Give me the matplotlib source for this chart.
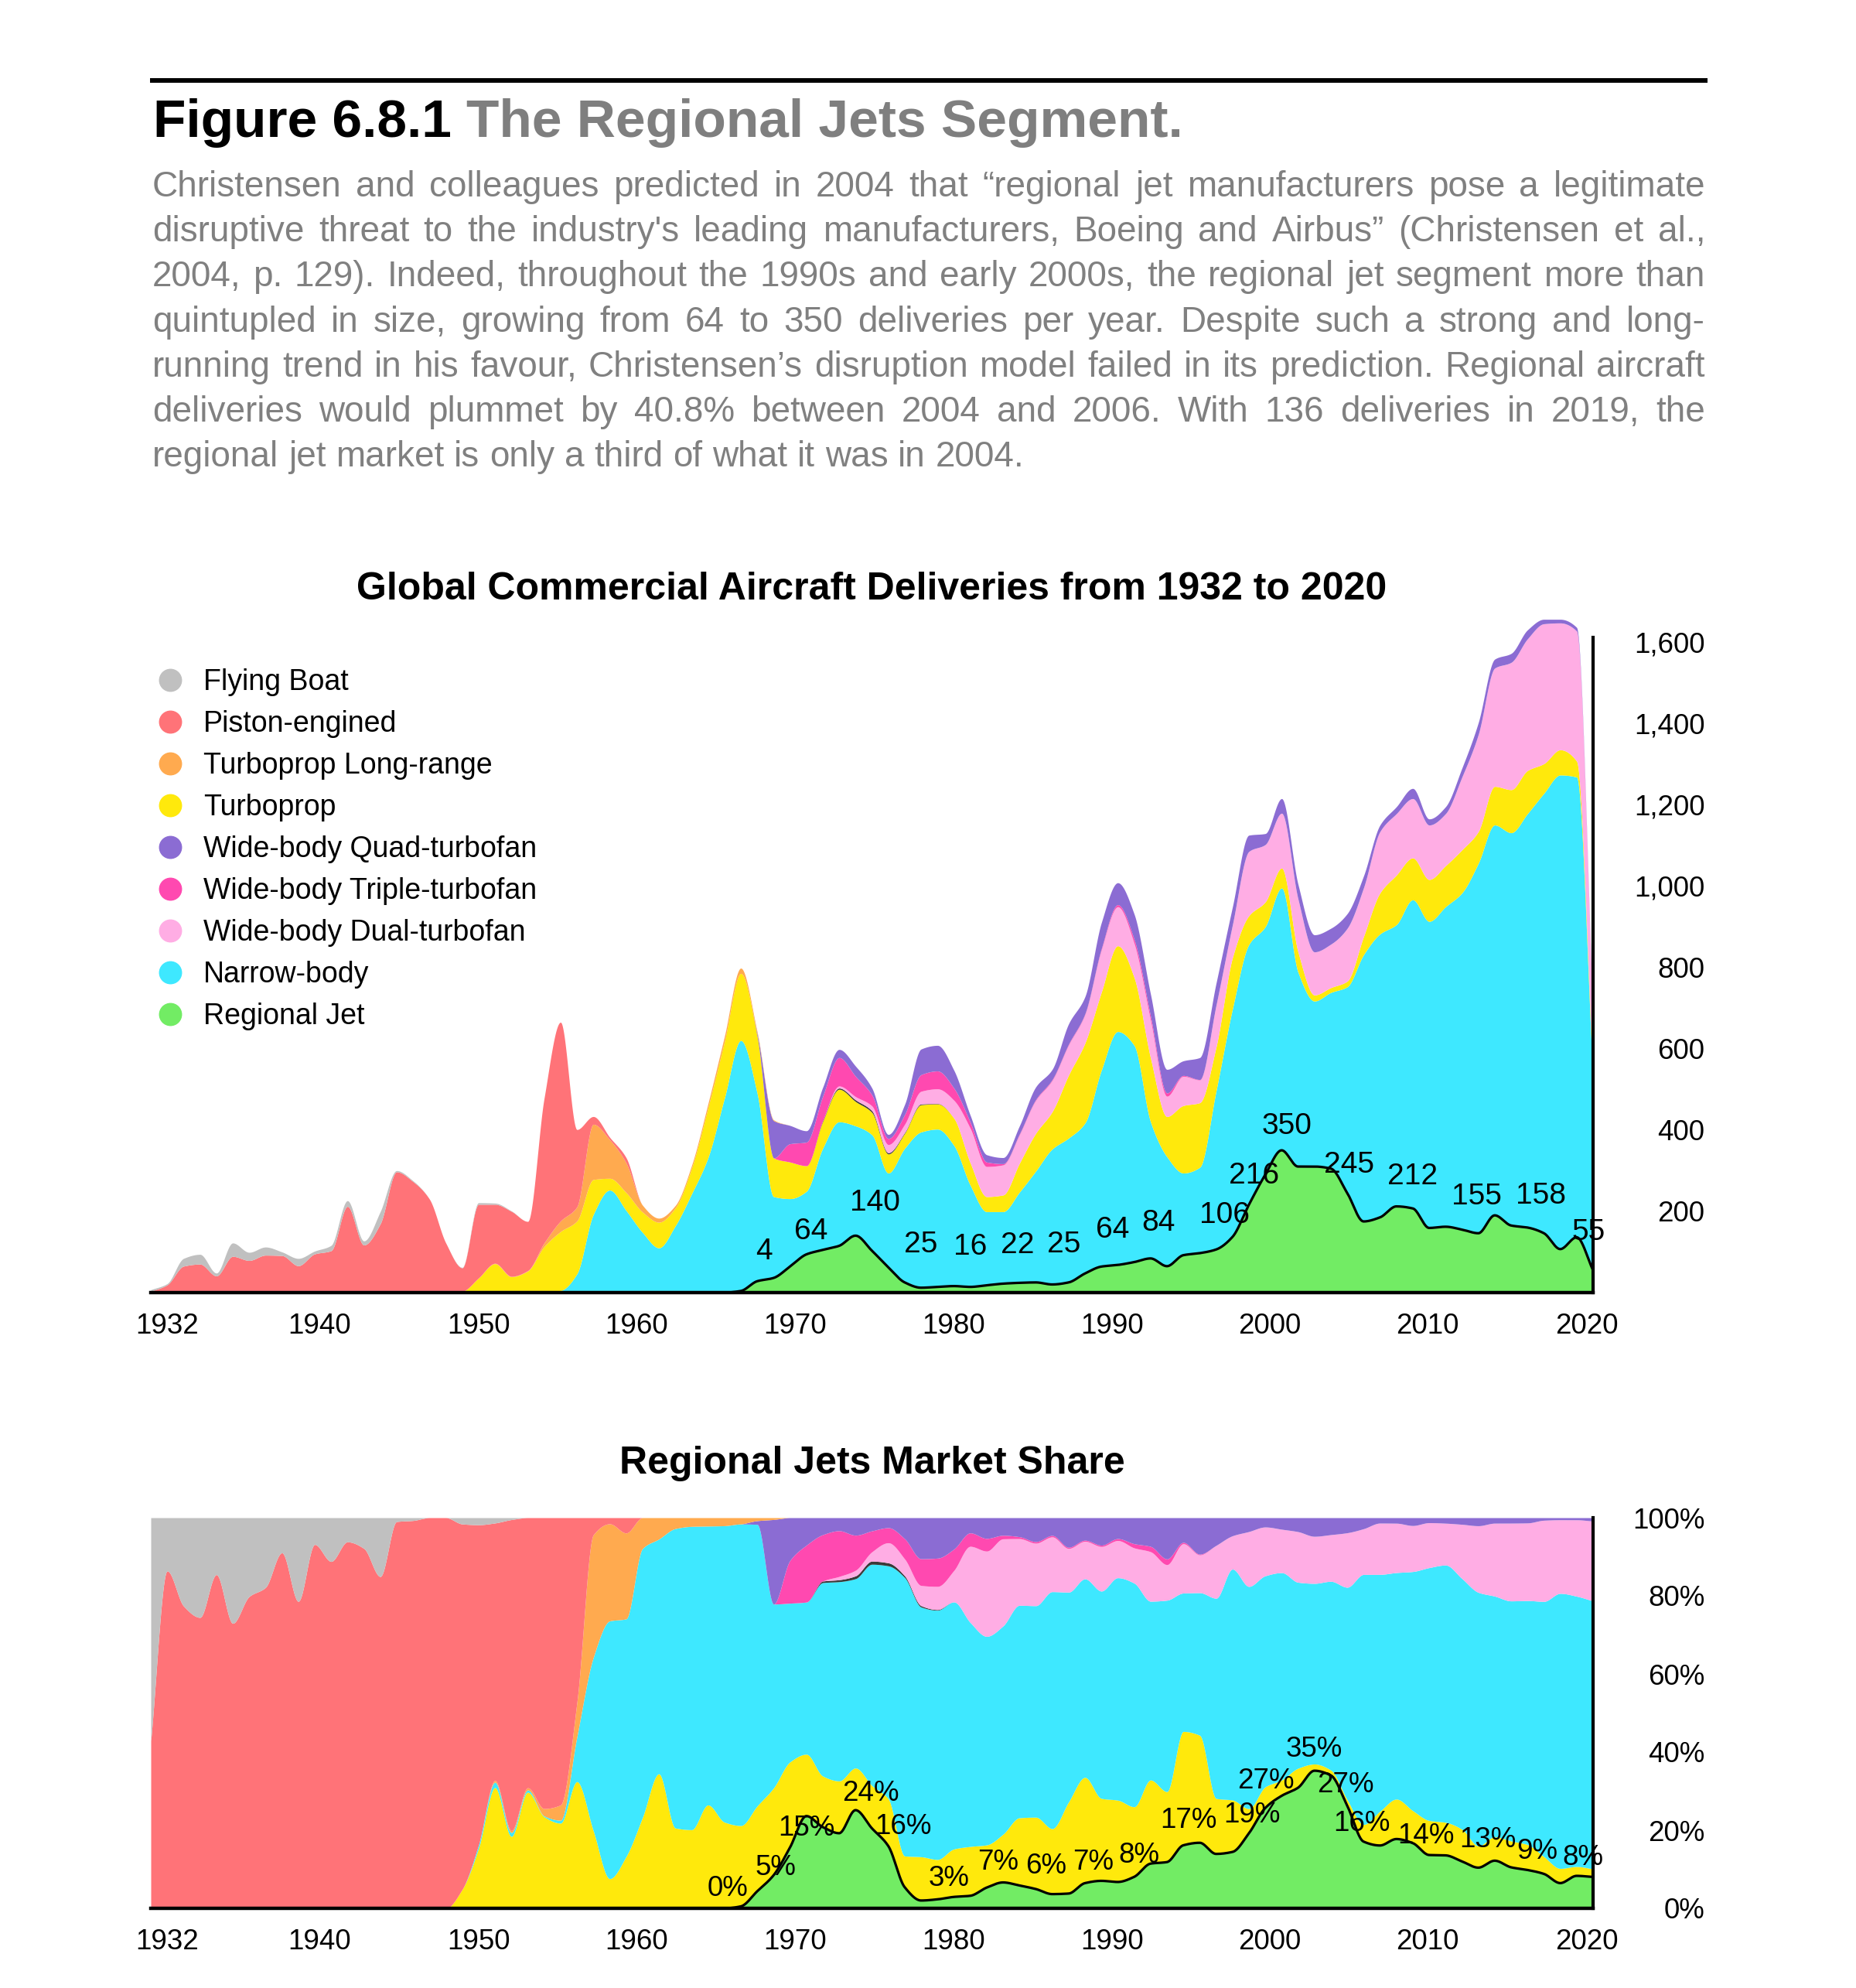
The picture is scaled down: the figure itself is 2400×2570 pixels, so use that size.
import numpy as np
import matplotlib
matplotlib.use("Agg")
import matplotlib.pyplot as plt
from matplotlib.lines import Line2D
from matplotlib.ticker import FuncFormatter

plt.rcParams['font.family'] = ['Liberation Sans', 'DejaVu Sans']

W, H = 2400, 2570

years = np.arange(1932, 2021)

# deliveries per year, 1932..2020
flying_boat = [4, 3, 19, 24, 7, 33, 20, 20, 9, 18,
               7, 13, 14, 10, 30, 3, 2, 0, 0, 1,
               4, 3, 1, 0, 0, 0, 0, 0, 0, 0,
               0, 0, 0, 0, 0, 0, 0, 0, 0, 0,
               0, 0, 0, 0, 0, 0, 0, 0, 0, 0,
               0, 0, 0, 0, 0, 0, 0, 0, 0, 0,
               0, 0, 0, 0, 0, 0, 0, 0, 0, 0,
               0, 0, 0, 0, 0, 0, 0, 0, 0, 0,
               0, 0, 0, 0, 0, 0, 0, 0, 0]
piston = [3, 19, 65, 70, 41, 89, 79, 92, 91, 66,
          95, 103, 212, 117, 169, 297, 273, 230, 122, 58,
          181, 145, 160, 121, 356, 489, 190, 19, 6, 13,
          0, 0, 0, 0, 0, 0, 0, 0, 0, 0,
          0, 0, 0, 0, 0, 0, 0, 0, 0, 0,
          0, 0, 0, 0, 0, 0, 0, 0, 0, 0,
          0, 0, 0, 0, 0, 0, 0, 0, 0, 0,
          0, 0, 0, 0, 0, 0, 0, 0, 0, 0,
          0, 0, 0, 0, 0, 0, 0, 0, 0]
turboprop_long = [0, 0, 0, 0, 0, 0, 0, 0, 0, 0,
                  0, 0, 0, 0, 0, 0, 0, 0, 0, 0,
                  0, 1, 1, 1, 9, 26, 35, 136, 95, 73,
                  17, 10, 6, 7, 10, 13, 13, 5, 2, 0,
                  0, 0, 0, 0, 0, 0, 0, 0, 0, 0,
                  0, 0, 0, 0, 0, 0, 0, 0, 0, 0,
                  0, 0, 0, 0, 0, 0, 0, 0, 0, 0,
                  0, 0, 0, 0, 0, 0, 0, 0, 0, 0,
                  0, 0, 0, 0, 0, 0, 0, 0, 0]
turboprop = [0, 0, 0, 0, 0, 0, 0, 0, 0, 0,
             0, 0, 0, 0, 0, 0, 0, 0, 0, 3,
             34, 68, 37, 52, 112, 145, 130, 86, 29, 44,
             50, 63, 44, 63, 123, 139, 165, 140, 95, 90,
             63, 66, 80, 60, 55, 47, 37, 67, 62, 67,
             55, 37, 41, 71, 93, 92, 155, 197, 192, 211,
             167, 157, 99, 166, 159, 108, 126, 71, 61, 49,
             50, 15, 12, 14, 45, 101, 122, 103, 103, 101,
             106, 78, 95, 106, 106, 73, 62, 39, 14]
wide_quad = [0, 0, 0, 0, 0, 0, 0, 0, 0, 0,
             0, 0, 0, 0, 0, 0, 0, 0, 0, 0,
             0, 0, 0, 0, 0, 0, 0, 0, 0, 0,
             0, 0, 0, 0, 0, 0, 0, 6, 92, 45,
             28, 22, 20, 25, 17, 10, 25, 63, 63, 44,
             17, 18, 15, 20, 31, 25, 50, 42, 64, 54,
             62, 54, 58, 36, 54, 54, 44, 40, 27, 36,
             36, 42, 39, 36, 29, 16, 17, 25, 15, 17,
             22, 29, 22, 22, 22, 11, 9, 9, 6]
wide_triple = [0, 0, 0, 0, 0, 0, 0, 0, 0, 0,
               0, 0, 0, 0, 0, 0, 0, 0, 0, 0,
               0, 0, 0, 0, 0, 0, 0, 0, 0, 0,
               0, 0, 0, 0, 0, 0, 0, 0, 0, 45,
               58, 60, 70, 50, 27, 15, 24, 41, 44, 30,
               15, 11, 3, 2, 2, 2, 2, 2, 3, 5,
               10, 10, 8, 2, 1, 0, 0, 0, 0, 0,
               0, 0, 0, 0, 0, 0, 0, 0, 0, 0,
               0, 0, 0, 0, 0, 0, 0, 0, 0]
wide_dual = [0, 0, 0, 0, 0, 0, 0, 0, 0, 0,
             0, 0, 0, 0, 0, 0, 0, 0, 0, 0,
             0, 0, 0, 0, 0, 0, 0, 0, 0, 0,
             0, 0, 0, 0, 0, 0, 0, 0, 0, 0,
             0, 0, 5, 8, 12, 20, 20, 31, 36, 44,
             85, 74, 74, 70, 81, 77, 74, 70, 104, 96,
             84, 93, 50, 72, 56, 103, 81, 158, 141, 135,
             130, 106, 107, 130, 120, 151, 151, 146, 134, 128,
             179, 239, 291, 313, 324, 344, 312, 320, 140]
supersonic = [0, 0, 0, 0, 0, 0, 0, 0, 0, 0,
              0, 0, 0, 0, 0, 0, 0, 0, 0, 0,
              0, 0, 0, 0, 0, 0, 0, 0, 0, 0,
              0, 0, 0, 0, 0, 0, 0, 0, 0, 0,
              0, 2, 3, 4, 4, 3, 2, 2, 1, 0,
              0, 0, 0, 0, 0, 0, 0, 0, 0, 0,
              0, 0, 0, 0, 0, 0, 0, 0, 0, 0,
              0, 0, 0, 0, 0, 0, 0, 0, 0, 0,
              0, 0, 0, 0, 0, 0, 0, 0, 0]
narrow = [0, 0, 0, 0, 0, 0, 0, 0, 0, 0,
          0, 0, 0, 0, 0, 0, 0, 0, 0, 0,
          2, 3, 2, 1, 1, 5, 46, 192, 252, 202,
          148, 110, 164, 243, 332, 478, 616, 462, 200, 167,
          155, 250, 305, 270, 285, 232, 330, 383, 388, 346,
          250, 181, 177, 223, 274, 333, 355, 370, 483, 574,
          533, 336, 269, 202, 211, 390, 561, 640, 610, 645,
          478, 407, 433, 507, 656, 697, 693, 759, 754, 787,
          828, 910, 960, 966, 1018, 1082, 1166, 1132, 470]
regional = [0, 0, 0, 0, 0, 0, 0, 0, 0, 0,
            0, 0, 0, 0, 0, 0, 0, 0, 0, 0,
            0, 0, 0, 0, 0, 0, 0, 0, 0, 0,
            0, 0, 0, 0, 0, 0, 4, 28, 36, 64,
            94, 105, 115, 140, 103, 62, 25, 12, 14, 16,
            14, 18, 22, 24, 25, 20, 25, 47, 64, 68,
            75, 84, 65, 92, 97, 106, 137, 216, 290, 350,
            310, 310, 305, 245, 175, 185, 212, 207, 159, 162,
            155, 146, 190, 165, 160, 146, 107, 136, 55]

data = {
    'Flying Boat': flying_boat,
    'Piston-engined': piston,
    'Turboprop Long-range': turboprop_long,
    'Turboprop': turboprop,
    'Wide-body Quad-turbofan': wide_quad,
    'Wide-body Triple-turbofan': wide_triple,
    'Wide-body Dual-turbofan': wide_dual,
    'Supersonic': supersonic,
    'Narrow-body': narrow,
    'Regional Jet': regional,
}
colors = {
    'Flying Boat': '#C0C0C0',
    'Piston-engined': '#FF7378',
    'Turboprop Long-range': '#FFAA4F',
    'Turboprop': '#FFE90C',
    'Wide-body Quad-turbofan': '#8B6CD3',
    'Wide-body Triple-turbofan': '#FF49B0',
    'Wide-body Dual-turbofan': '#FFADE4',
    'Supersonic': '#3A3A3A',
    'Narrow-body': '#3EE8FF',
    'Regional Jet': '#72EC64',
}
legend_names = ['Flying Boat', 'Piston-engined', 'Turboprop Long-range', 'Turboprop',
                'Wide-body Quad-turbofan', 'Wide-body Triple-turbofan',
                'Wide-body Dual-turbofan', 'Narrow-body', 'Regional Jet']

# stacking order, bottom to top
order_counts = ['Regional Jet', 'Narrow-body', 'Turboprop', 'Supersonic', 'Wide-body Dual-turbofan',
                'Wide-body Triple-turbofan', 'Wide-body Quad-turbofan', 'Turboprop Long-range',
                'Piston-engined', 'Flying Boat']
order_share = ['Regional Jet', 'Turboprop', 'Narrow-body', 'Supersonic', 'Wide-body Dual-turbofan',
               'Wide-body Triple-turbofan', 'Wide-body Quad-turbofan', 'Turboprop Long-range',
               'Piston-engined', 'Flying Boat']

xtick_pos = [1932.99, 1942.29, 1952.01, 1961.63, 1971.31, 1980.98, 1990.65, 2000.28, 2009.90, 2019.62]
xtick_labels = ['1932', '1940', '1950', '1960', '1970', '1980', '1990', '2000', '2010', '2020']

rj_labels = ['4', '64', '140', '25', '16', '22', '25', '64', '84', '106', '216', '350', '245',
             '212', '155', '158', '55']
rj_label_x = [1969.4, 1972.3, 1976.2, 1979.0, 1982.0, 1984.9, 1987.7, 1990.7, 1993.5, 1997.5,
              1999.3, 2001.3, 2005.1, 2009.0, 2012.9, 2016.8, 2019.7]
rj_label_y = [101, 150, 221, 118, 112, 116, 118, 154, 171, 190, 287, 409, 314, 285, 236, 238, 148]

share_labels = ['0%', '5%', '15%', '24%', '16%', '3%', '7%', '6%', '7%', '8%', '17%', '19%',
                '27%', '35%', '27%', '16%', '14%', '13%', '9%', '8%']
share_label_x = [1967.2, 1970.1, 1972.0, 1975.9, 1977.9, 1980.7, 1983.7, 1986.6, 1989.5, 1992.3,
                 1995.3, 1999.2, 2000.05, 2003.0, 2004.9, 2005.9, 2009.8, 2013.6, 2016.6, 2019.4]
share_label_y = [5.0, 10.3, 20.4, 29.5, 20.8, 7.7, 11.7, 10.7, 11.7, 13.5, 22.4, 23.8, 32.5,
                 40.6, 31.5, 21.6, 18.6, 17.6, 14.5, 12.9]

body_lines = [
    "Christensen and colleagues predicted in 2004 that \u201cregional jet manufacturers pose a legitimate",
    "disruptive threat to the industry's leading manufacturers, Boeing and Airbus\u201d (Christensen et al.,",
    "2004, p. 129). Indeed, throughout the 1990s and early 2000s, the regional jet segment more than",
    "quintupled in size, growing from 64 to 350 deliveries per year. Despite such a strong and long-",
    "running trend in his favour, Christensen\u2019s disruption model failed in its prediction. Regional aircraft",
    "deliveries would plummet by 40.8% between 2004 and 2006. With 136 deliveries in 2019, the",
    "regional jet market is only a third of what it was in 2004.",
]


def monotone(x, y, xs):
    # monotone cubic through the points (no overshoot)
    x = np.asarray(x, float)
    y = np.asarray(y, float)
    h = np.diff(x)
    d = np.diff(y) / h
    m = np.zeros_like(y)
    m[0], m[-1] = d[0], d[-1]
    for k in range(1, len(y) - 1):
        if d[k - 1] * d[k] > 0:
            w1 = 2 * h[k] + h[k - 1]
            w2 = h[k] + 2 * h[k - 1]
            m[k] = (w1 + w2) / (w1 / d[k - 1] + w2 / d[k])
    i = np.clip(np.searchsorted(x, xs) - 1, 0, len(x) - 2)
    t = (xs - x[i]) / h[i]
    h00 = 2 * t**3 - 3 * t**2 + 1
    h10 = t**3 - 2 * t**2 + t
    h01 = -2 * t**3 + 3 * t**2
    h11 = t**3 - t**2
    return h00 * y[i] + h10 * h[i] * m[i] + h01 * y[i + 1] + h11 * h[i] * m[i + 1]


def smooth_stack(rows, xs):
    cum = np.cumsum(np.array(rows, float), axis=0)
    curves = np.array([monotone(years, c, xs) for c in cum])
    curves = np.maximum(curves, 0)
    return np.maximum.accumulate(curves, axis=0)


xs = np.linspace(1932, 2020, 3000)

fig = plt.figure(figsize=(24, 25.7), dpi=100)
fig.patch.set_facecolor('white')

# ---- header ----
fig.add_artist(Line2D([197 / W, 2205 / W], [1 - 104 / H, 1 - 104 / H], color='black', lw=4.3))
renderer = fig.canvas.get_renderer()
t1 = fig.text(198 / W, 1 - 177 / H, "Figure 6.8.1", fontsize=50, fontweight='bold',
              color='black', va='baseline')
bb = t1.get_window_extent(renderer)
fig.text((bb.x1 + 19) / W, 1 - 177 / H, "The Regional Jets Segment.", fontsize=50,
         fontweight='bold', color='#7F7F7F', va='baseline')

body_size = 33
body_color = '#808080'
probe_a = fig.text(0, 0, "a a", fontsize=body_size)
probe_b = fig.text(0, 0, "aa", fontsize=body_size)
space_w = probe_a.get_window_extent(renderer).width - probe_b.get_window_extent(renderer).width
probe_a.remove()
probe_b.remove()
for i, line in enumerate(body_lines):
    words = line.split(' ')
    y = 1 - (254 + 58.2 * i) / H
    texts = [fig.text(0, y, w, fontsize=body_size, color=body_color, va='baseline') for w in words]
    widths = [t.get_window_extent(renderer).width for t in texts]
    if i < len(body_lines) - 1:
        gap = (2205 - 197 - sum(widths)) / (len(words) - 1)
    else:
        gap = space_w
    x = 197
    for t, w in zip(texts, widths):
        t.set_x(x / W)
        x += w + gap

# ---- chart 1: deliveries ----
ax1 = fig.add_axes([195 / W, 1 - 1671 / H, 1865 / W, (1671 - 777.5) / H])
ax1.set_xlim(1932, 2020)
ax1.set_ylim(0, 1700)
curves = smooth_stack([data[n] for n in order_counts], xs)
lower = np.zeros_like(xs)
for name, upper in zip(order_counts, curves):
    ax1.fill_between(xs, lower, upper, color=colors[name], lw=0, zorder=2)
    lower = upper
ax1.plot(xs, curves[0], color='black', lw=2.3, zorder=4)
for s, x, y in zip(rj_labels, rj_label_x, rj_label_y):
    ax1.text(x, y, s, ha='center', va='center', fontsize=28, color='black', zorder=5)

ax1.set_title("Global Commercial Aircraft Deliveries from 1932 to 2020", fontsize=36,
              fontweight='bold', pad=0, y=(1671 - 762) / (1671 - 777.5), va='center')

# ---- chart 2: market share ----
ax2 = fig.add_axes([195 / W, 1 - 2467 / H, 1865 / W, 505 / H])
ax2.set_xlim(1932, 2020)
ax2.set_ylim(0, 1)
totals = np.sum([data[n] for n in order_share], axis=0).astype(float)
shares = [np.array(data[n], float) / totals for n in order_share]
scurves = smooth_stack(shares, xs)
scurves = np.minimum(scurves, 1.0)
lower = np.zeros_like(xs)
for name, upper in zip(order_share, scurves):
    ax2.fill_between(xs, lower, upper, color=colors[name], lw=0, zorder=2)
    lower = upper
ax2.plot(xs, scurves[0], color='black', lw=2.3, zorder=4)
for s, x, y in zip(share_labels, share_label_x, share_label_y):
    ax2.text(x, y / 100, s, ha='center', va='center', fontsize=26.5, color='black', zorder=5)
ax2.set_title("Regional Jets Market Share", fontsize=36, fontweight='bold', pad=0,
              y=(2467 - 1892) / 505, va='center')

for ax in (ax1, ax2):
    ax.patch.set_alpha(0)
    ax.spines['left'].set_visible(False)
    ax.spines['top'].set_visible(False)
    ax.spines['bottom'].set_linewidth(3.2)
    ax.spines['right'].set_linewidth(3.0)
    ax.spines['bottom'].set_zorder(6)
    ax.spines['right'].set_zorder(6)
    ax.yaxis.tick_right()
    ax.set_xticks(xtick_pos)
    ax.set_xticklabels(xtick_labels)
    ax.tick_params(axis='x', length=0, pad=31, labelsize=26.5)
    ax.tick_params(axis='y', length=0, pad=104, labelsize=26.5)
    for lab in ax.get_xticklabels():
        lab.set_verticalalignment('center')

ax1.spines['right'].set_bounds(0, 1612)
ax1.set_yticks([200, 400, 600, 800, 1000, 1200, 1400, 1600])
ax1.yaxis.set_major_formatter(FuncFormatter(lambda v, p: f"{int(v):,}"))
ax2.set_yticks([0, 0.2, 0.4, 0.6, 0.8, 1.0])
ax2.yaxis.set_major_formatter(FuncFormatter(lambda v, p: f"{int(round(v * 100))}%"))
for ax in (ax1, ax2):
    for lab in ax.get_yticklabels():
        lab.set_horizontalalignment('right')

# ---- legend ----
for i, name in enumerate(legend_names):
    yc = 878.6 + 54 * i
    fig.add_artist(Line2D([220 / W], [1 - yc / H], marker='o', ms=20.5, ls='',
                          color=colors[name], mec=colors[name]))
    fig.text(263 / W, 1 - (yc + 13.5) / H, name, fontsize=27, color='black', va='baseline')

fig.savefig('out.png', dpi=100, facecolor='white')
